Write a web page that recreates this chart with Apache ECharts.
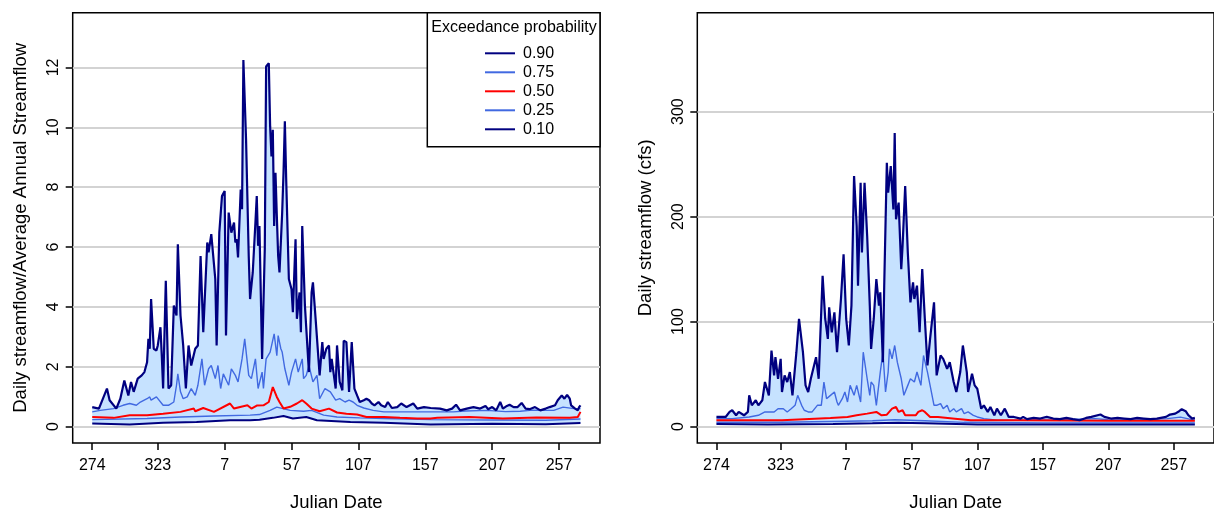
<!DOCTYPE html>
<html><head><meta charset="utf-8">
<script src="https://cdn.jsdelivr.net/npm/echarts@6/dist/echarts.min.js"></script>
<style>html,body{margin:0;padding:0;background:#fff}#c{width:1214px;height:517px}</style>
</head><body><div id="c"></div>
<script>
// ---------- data (day of water year 1..366, value) ----------
const tickDays = [1, 50, 100, 150, 200, 250, 300, 350];
const tickLabels = ['274', '323', '7', '57', '107', '157', '207', '257'];
const leftYTicks = [0, 2, 4, 6, 8, 10, 12];
const rightYTicks = [0, 100, 200, 300];
const probs = ['0.90', '0.75', '0.50', '0.25', '0.10'];

// Left panel: daily streamflow / average annual streamflow
const left_q90 = [[1,0.65],[6,0.60],[12,1.27],[14,0.88],[19,0.60],[22,0.93],[25,1.54],[28,1.04],[30,1.49],[32,1.16],[35,1.60],[38,1.71],[40,1.82],[42,2.15],[43,2.93],[44,2.60],[45,4.26],[47,2.60],[49,2.54],[50,2.71],[52,3.32],[53,2.37],[54,1.27],[56,4.87],[58,1.27],[60,1.38],[62,4.04],[64,3.71],[65,6.09],[67,3.71],[69,2.71],[71,1.27],[73,2.71],[75,2.04],[78,2.60],[80,2.71],[82,5.70],[84,3.15],[87,6.15],[88,5.82],[90,6.43],[93,4.93],[94,2.71],[96,6.48],[98,7.70],[100,7.87],[101,3.04],[103,7.15],[105,6.48],[107,6.82],[108,6.15],[109,6.26],[110,5.65],[112,7.92],[113,7.26],[114,12.25],[116,9.59],[118,5.70],[119,4.26],[121,5.15],[123,6.82],[124,7.70],[125,6.04],[126,6.70],[128,2.26],[130,5.93],[131,12.03],[133,12.14],[134,10.03],[135,9.03],[136,9.92],[137,6.70],[138,8.48],[139,7.04],[140,5.70],[141,5.15],[143,7.15],[144,8.48],[145,10.2],[146,8.26],[148,4.93],[150,4.59],[151,3.82],[153,6.26],[154,3.60],[156,4.48],[157,3.15],[158,6.70],[160,4.04],[163,1.82],[165,4.48],[166,4.82],[168,3.60],[171,1.71],[173,2.82],[174,2.26],[176,2.60],[178,2.71],[179,1.82],[180,2.26],[183,1.27],[184,2.71],[186,1.49],[188,1.21],[189,2.87],[191,2.82],[193,1.16],[195,2.82],[197,1.27],[199,1.04],[201,0.82],[204,0.88],[206,0.93],[208,0.88],[210,0.77],[212,0.71],[215,0.82],[217,0.71],[220,0.65],[222,0.82],[225,0.62],[229,0.65],[232,0.77],[236,0.65],[241,0.77],[244,0.60],[249,0.65],[254,0.62],[261,0.60],[266,0.54],[270,0.60],[273,0.73],[276,0.54],[281,0.60],[286,0.65],[291,0.60],[295,0.69],[297,0.58],[300,0.65],[303,0.54],[306,0.82],[308,0.60],[311,0.69],[313,0.73],[316,0.65],[319,0.65],[322,0.79],[325,0.60],[328,0.58],[332,0.65],[336,0.54],[340,0.60],[343,0.65],[347,0.71],[349,0.88],[352,1.04],[354,0.93],[356,1.06],[358,0.93],[359,0.71],[362,0.60],[364,0.54],[365,0.65],[366,0.71]];
const left_q75 = [[1,0.49],[7,0.54],[17,0.60],[24,0.71],[29,0.77],[34,0.71],[37,0.82],[42,0.93],[44,0.99],[45,0.88],[49,0.99],[54,0.71],[58,0.71],[62,0.82],[64,1.38],[65,1.76],[67,1.16],[69,0.93],[72,0.99],[75,1.27],[78,1.04],[80,1.38],[83,2.26],[85,1.38],[88,1.93],[90,2.04],[93,1.60],[95,2.04],[97,1.27],[99,1.76],[100,1.82],[103,1.38],[105,1.93],[108,1.71],[110,1.49],[113,2.26],[115,2.93],[118,1.71],[120,1.60],[123,2.26],[125,1.27],[128,1.82],[129,1.27],[131,2.26],[134,2.49],[137,3.10],[139,2.37],[140,3.04],[142,2.60],[143,2.49],[145,1.93],[148,1.38],[150,1.82],[153,2.26],[155,1.82],[158,2.26],[159,1.60],[161,1.71],[163,2.04],[166,1.49],[169,1.71],[171,0.93],[175,1.27],[179,1.16],[183,0.88],[186,0.93],[190,0.82],[193,0.88],[196,0.82],[199,0.71],[204,0.62],[211,0.54],[219,0.49],[231,0.49],[244,0.49],[254,0.49],[271,0.49],[280,0.52],[296,0.54],[310,0.50],[321,0.51],[330,0.55],[346,0.54],[353,0.65],[361,0.60],[366,0.60]];
const left_q50 = [[1,0.32],[17,0.29],[29,0.38],[42,0.38],[54,0.43],[67,0.49],[77,0.60],[78,0.51],[84,0.62],[92,0.49],[104,0.77],[107,0.60],[117,0.71],[120,0.60],[124,0.70],[129,0.71],[133,0.82],[136,1.32],[139,0.99],[141,0.82],[144,0.60],[149,0.66],[154,0.77],[158,0.88],[161,0.77],[165,0.60],[171,0.51],[178,0.60],[184,0.47],[191,0.43],[199,0.40],[206,0.32],[219,0.32],[231,0.29],[244,0.27],[254,0.27],[259,0.29],[283,0.32],[308,0.27],[333,0.30],[358,0.29],[364,0.32],[366,0.49]];
const left_q25 = [[1,0.23],[42,0.27],[67,0.32],[92,0.35],[119,0.38],[126,0.40],[134,0.54],[139,0.65],[149,0.54],[159,0.51],[165,0.54],[174,0.38],[184,0.32],[201,0.29],[219,0.27],[254,0.23],[300,0.22],[340,0.21],[366,0.25]];
const left_q10 = [[1,0.10],[29,0.07],[54,0.13],[79,0.15],[104,0.21],[119,0.21],[126,0.23],[136,0.29],[144,0.35],[151,0.27],[161,0.32],[169,0.21],[194,0.15],[219,0.13],[254,0.07],[300,0.09],[340,0.08],[366,0.12]];

// Right panel: daily streamflow (cfs)
const right_q90 = [[1,9.1],[8,9.1],[11,13.9],[13,15.5],[16,10.7],[18,13.9],[22,10.7],[25,13.9],[26,29.7],[28,20.2],[31,25.0],[33,20.2],[36,25.0],[38,42.4],[41,29.7],[43,72.4],[45,48.7],[46,66.1],[48,45.5],[50,64.5],[51,32.9],[53,48.7],[55,42.4],[57,51.9],[59,29.7],[62,70.8],[64,102.5],[67,70.8],[69,39.2],[71,32.9],[73,45.5],[77,66.1],[79,45.5],[82,143.6],[84,102.5],[86,83.5],[87,113.6],[89,89.8],[91,108.8],[93,70.8],[96,121.5],[98,164.2],[100,102.5],[102,77.2],[104,115.2],[106,238.6],[108,191.1],[109,134.2],[111,232.3],[112,165.8],[114,232.3],[116,181.6],[118,115.2],[119,74.0],[121,102.5],[123,140.5],[125,115.2],[126,127.8],[128,61.3],[129,134.2],[131,251.3],[132,222.8],[134,248.1],[136,206.9],[137,279.7],[138,197.4],[140,213.3],[142,150.0],[143,172.1],[145,229.1],[147,165.8],[149,118.3],[151,137.3],[152,121.5],[154,134.2],[156,89.8],[158,150.0],[160,102.5],[162,58.2],[164,83.5],[167,118.3],[169,48.7],[172,67.7],[174,64.5],[177,55.0],[179,61.3],[182,42.4],[184,32.9],[187,51.9],[189,77.2],[192,51.9],[193,32.9],[196,50.3],[198,39.2],[200,36.0],[203,17.0],[205,20.2],[208,13.9],[210,18.6],[213,10.7],[215,17.0],[218,10.7],[221,17.0],[224,9.1],[228,9.1],[233,7.5],[235,9.2],[238,7.0],[243,8.2],[248,7.6],[253,9.2],[258,7.6],[263,7.0],[268,8.2],[273,7.0],[278,6.0],[283,8.2],[287,9.2],[294,11.4],[297,9.2],[302,7.6],[307,8.2],[312,7.6],[317,7.0],[322,8.2],[327,7.6],[332,7.0],[337,7.6],[344,9.2],[347,11.4],[351,12.3],[354,14.6],[356,16.5],[359,14.6],[361,10.8],[364,7.6],[366,8.2]];
const right_q75 = [[1,7.5],[13,7.5],[26,9.1],[33,10.7],[38,13.9],[45,13.9],[48,17.0],[52,17.0],[55,13.9],[58,17.0],[61,20.2],[63,29.7],[66,20.2],[68,15.5],[71,13.9],[74,13.9],[78,20.2],[81,20.2],[83,42.4],[85,26.5],[88,29.7],[91,32.9],[93,23.4],[94,20.2],[97,26.5],[99,32.9],[101,23.4],[103,39.2],[106,29.7],[108,39.2],[111,23.4],[113,70.8],[116,45.5],[118,29.7],[119,42.4],[121,39.2],[123,20.2],[126,51.9],[128,70.8],[130,32.9],[132,51.9],[133,74.0],[135,64.5],[137,77.2],[139,61.3],[142,45.5],[144,29.7],[147,39.2],[149,45.5],[152,42.4],[154,51.9],[157,39.2],[159,67.7],[162,51.9],[164,39.2],[167,20.2],[169,20.2],[172,21.8],[174,17.0],[177,20.2],[179,13.9],[182,17.0],[184,13.9],[188,17.0],[190,12.3],[193,13.9],[197,10.7],[200,9.1],[205,7.5],[215,6.0],[233,6.0],[260,6.5],[290,7.5],[300,6.5],[320,6.3],[345,7.5],[355,9.0],[362,7.0],[366,7.0]];
const right_q50 = [[1,6.0],[26,6.0],[51,6.0],[76,7.5],[88,8.2],[101,9.1],[108,10.7],[116,12.3],[123,13.9],[127,10.7],[131,11.3],[135,17.0],[138,18.6],[140,13.9],[143,15.5],[145,10.7],[153,10.7],[155,13.9],[158,15.5],[160,13.9],[164,9.1],[170,9.1],[183,7.5],[195,6.0],[233,6.0],[300,5.5],[366,5.5]];
const right_q25 = [[1,4.0],[50,4.0],[100,5.0],[120,5.5],[137,6.5],[160,5.5],[190,4.0],[250,3.5],[366,3.5]];
const right_q10 = [[1,2.5],[40,2.0],[90,2.5],[120,3.0],[140,3.5],[160,3.0],[200,2.0],[366,2.0]];

// ---------- styling ----------
const FONT = "'Liberation Sans', Arial, Helvetica, sans-serif";
const NAVY = '#000080', ROYAL = '#4169E1', RED = '#FF0000', FILL = '#C6E2FF';
const lineStyles = {
  '0.90': {c: NAVY, w: 2.2, z: 6},
  '0.75': {c: ROYAL, w: 1.4, z: 4},
  '0.50': {c: RED, w: 2, z: 5},
  '0.25': {c: ROYAL, w: 1.4, z: 3},
  '0.10': {c: NAVY, w: 2, z: 5}
};
const panels = [
  {left: 72.7, yMin: -0.55, yMax: 13.83, ticks: leftYTicks, split: 7, name: 'Daily streamflow/Average Annual Streamflow',
   series: [left_q90, left_q75, left_q50, left_q25, left_q10]},
  {left: 697.3, yMin: -15.7, yMax: 394.3, ticks: rightYTicks, split: 4, name: 'Daily streamflow (cfs)',
   series: [right_q90, right_q75, right_q50, right_q25, right_q10]}
];
const GRID_TOP = 12.7, GRID_H = 431.8, GRID_W = 527.3;

const option = {
  animation: false,
  backgroundColor: '#fff',
  textStyle: {fontFamily: FONT},
  grid: panels.map(p => ({left: p.left, top: GRID_TOP, width: GRID_W, height: GRID_H,
    show: true, borderColor: '#000', borderWidth: 1.5, backgroundColor: 'transparent'})),
  xAxis: panels.map((p, i) => ({
    gridIndex: i, type: 'value', min: -13.6, max: 380.6,
    axisLine: {show: false, onZero: false},
    axisTick: {show: true, length: 7, lineStyle: {color: '#000', width: 1.5}, customValues: tickDays},
    axisLabel: {customValues: tickDays, formatter: v => tickLabels[tickDays.indexOf(v)],
      fontSize: 16, color: '#000', fontFamily: FONT, margin: 15},
    splitLine: {show: false},
    name: 'Julian Date', nameLocation: 'middle', nameGap: 50,
    nameTextStyle: {fontSize: 18.5, color: '#000', fontFamily: FONT}
  })),
  yAxis: panels.map((p, i) => ({
    gridIndex: i, type: 'value', min: p.yMin, max: p.yMax, splitNumber: p.split,
    axisLine: {show: false, onZero: false},
    axisTick: {show: true, length: 7, lineStyle: {color: '#000', width: 1.5}, customValues: p.ticks},
    axisLabel: {customValues: p.ticks, rotate: 90, fontSize: 16, color: '#000', fontFamily: FONT, margin: 11},
    splitLine: {show: true, lineStyle: {color: '#d3d3d3', width: 2}},
    name: p.name, nameLocation: 'middle', nameGap: 42,
    nameTextStyle: {fontSize: 18.5, color: '#000', fontFamily: FONT}
  })),
  legend: {
    data: probs, orient: 'vertical', left: 480, top: 40.3, itemWidth: 30, itemHeight: 2, itemGap: 3,
    icon: 'rect', selectedMode: false, z: 20,
    textStyle: {fontSize: 16, color: '#000', fontFamily: FONT, padding: [0, 0, 0, 3]}
  },
  graphic: [
    {type: 'rect', z: 15, shape: {x: 427.3, y: 12.7, width: 172.7, height: 134},
     style: {fill: '#fff', stroke: '#000', lineWidth: 1.5}},
    {type: 'text', z: 16, x: 514, y: 28,
     style: {text: 'Exceedance probability', fontSize: 16, fontFamily: FONT, fill: '#000', align: 'center', verticalAlign: 'middle'}}
  ],
  series: []
};

panels.forEach((p, i) => {
  const upper = p.series[0], lower = p.series[4];
  option.series.push({
    type: 'custom', name: 'band' + i, xAxisIndex: i, yAxisIndex: i, coordinateSystem: 'cartesian2d',
    silent: true, z: 1, data: [[upper[0][0], upper[0][1]]],
    renderItem: (params, api) => {
      const pts = upper.map(d => api.coord(d)).concat(lower.slice().reverse().map(d => api.coord(d)));
      return {type: 'polygon', shape: {points: pts}, style: {fill: FILL, stroke: null}};
    }
  });
  probs.forEach((name, k) => {
    const s = lineStyles[name];
    option.series.push({
      type: 'line', name: name, xAxisIndex: i, yAxisIndex: i, data: p.series[k],
      showSymbol: false, symbol: 'none', color: s.c, z: s.z, silent: true,
      lineStyle: {color: s.c, width: s.w}
    });
  });
});

const chart = echarts.init(document.getElementById('c'), null, {renderer: 'canvas'});
chart.setOption(option);
</script>
</body></html>
